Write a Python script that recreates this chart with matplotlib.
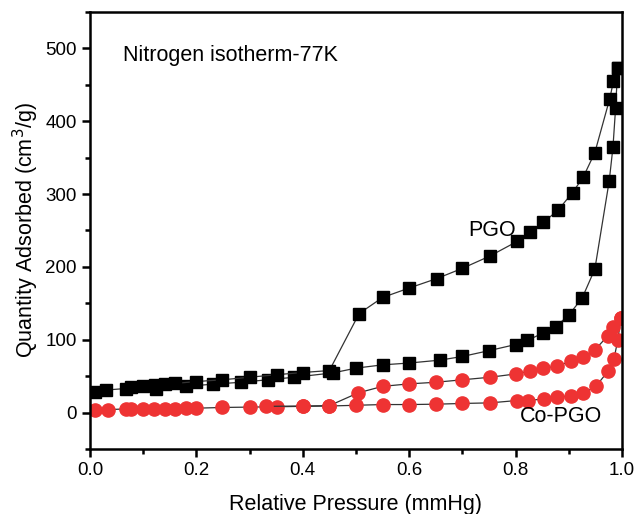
import matplotlib.pyplot as plt
from matplotlib.ticker import MultipleLocator

plt.rcParams['font.family'] = ['Liberation Sans', 'DejaVu Sans']

# PGO, adsorption and desorption branches
pgo_ads_p = [0.009, 0.031, 0.067, 0.078, 0.099, 0.125, 0.18, 0.232, 0.284, 0.334,
             0.384, 0.457, 0.50, 0.55, 0.60, 0.658, 0.70, 0.75, 0.80, 0.822,
             0.851, 0.876, 0.90, 0.925, 0.949, 0.976, 0.983, 0.988, 0.992]
pgo_ads_v = [28, 31, 33, 35, 36, 32, 36, 39, 41.6, 45,
             48.5, 54.5, 61, 65.5, 68, 72, 77, 85, 93.4, 99,
             109, 118, 134, 157, 197, 318, 364, 418, 473]
pgo_des_p = [0.992, 0.984, 0.977, 0.949, 0.927, 0.907, 0.88, 0.852, 0.828, 0.803,
             0.752, 0.70, 0.652, 0.60, 0.55, 0.506, 0.45, 0.40, 0.351, 0.30,
             0.249, 0.20, 0.16, 0.141, 0.122]
pgo_des_v = [473, 455, 431, 357, 323, 302, 278, 261, 248, 235,
             215, 198, 184, 171, 158, 136, 57.7, 55, 52, 48.5,
             45, 42.6, 40, 39, 38]

# Co-PGO
co_ads_p = [0.009, 0.033, 0.067, 0.078, 0.099, 0.12, 0.141, 0.16, 0.18, 0.20,
            0.249, 0.30, 0.351, 0.40, 0.45, 0.50, 0.55, 0.60, 0.65, 0.70,
            0.752, 0.802, 0.824, 0.853, 0.877, 0.904, 0.927, 0.951, 0.974, 0.985,
            0.992, 0.998]
co_ads_v = [4, 4, 5, 5, 5, 5, 5.5, 5.5, 6, 6,
            7, 7.5, 8, 8.5, 9, 10, 11, 11, 11.5, 12.5,
            13.3, 16.5, 16.5, 18.8, 21, 23, 26.5, 36, 57, 74,
            99, 130]
co_des_p = [0.998, 0.984, 0.973, 0.949, 0.927, 0.904, 0.878, 0.852, 0.828, 0.80,
            0.752, 0.70, 0.65, 0.60, 0.55, 0.504, 0.45, 0.40, 0.331]
co_des_v = [130, 118, 105, 86, 76, 70.5, 63.6, 61, 57, 53,
            48.5, 45, 41.6, 39.4, 36, 27, 9.5, 9, 8.5]

fig = plt.figure(figsize=(6.35, 5.14), dpi=100)
ax = fig.add_axes([0.1417, 0.1265, 0.8378, 0.8502])

line_kw = dict(color='#333333', lw=0.9)
for p, v in [(pgo_ads_p, pgo_ads_v), (pgo_des_p, pgo_des_v)]:
    ax.plot(p, v, marker='s', ms=8.5, mfc='black', mec='black', **line_kw)
for p, v in [(co_ads_p, co_ads_v), (co_des_p, co_des_v)]:
    ax.plot(p, v, marker='o', ms=9.5, mfc='#ee3333', mec='#ee3333', **line_kw)

ax.set_xlim(0, 1.0)
ax.set_ylim(-50, 550)
ax.xaxis.set_major_locator(MultipleLocator(0.2))
ax.xaxis.set_minor_locator(MultipleLocator(0.1))
ax.yaxis.set_major_locator(MultipleLocator(100))
ax.yaxis.set_minor_locator(MultipleLocator(50))
ax.set_yticks([0, 100, 200, 300, 400, 500])
ax.tick_params(which='major', direction='out', length=6, width=1.8, labelsize=13.5)
ax.tick_params(which='minor', direction='out', length=3.5, width=1.8)
ax.tick_params(top=False, right=False)
for s in ax.spines.values():
    s.set_linewidth(1.8)

ax.set_xlabel('Relative Pressure (mmHg)', fontsize=15.5, labelpad=11)
ax.set_ylabel('Quantity Adsorbed (cm$^3$/g)', fontsize=15.5, labelpad=3)

ax.text(0.062, 490, 'Nitrogen isotherm-77K', fontsize=15.5, va='center')
ax.text(0.755, 250, 'PGO', fontsize=15.5, ha='center', va='center')
ax.text(0.885, -5, 'Co-PGO', fontsize=15.5, ha='center', va='center')

fig.savefig('out.png', dpi=100)
